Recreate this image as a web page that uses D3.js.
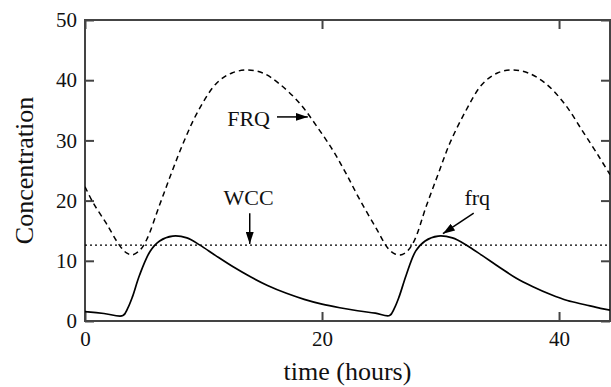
<!DOCTYPE html>
<html>
<head>
<meta charset="utf-8">
<script src="https://cdn.jsdelivr.net/npm/d3@7"></script>
<style>
  body { margin: 0; background: #fff; }
  text { font-family: "Liberation Serif", "DejaVu Serif", serif; fill: #111; }
</style>
</head>
<body>
<div id="chart"></div>
<script>
// dati (ore, concentrazione)
const frqTime = [0, 1.6, 3.2, 3.6, 4.0, 4.6, 5.5, 6.3, 7.4, 8.6, 9.7, 11.0, 12.5, 14.0, 15.4, 17.0, 18.5, 20.0, 21.5, 23.0, 24.5, 25.7, 26.1, 26.5, 27.1, 27.9, 28.7, 29.8, 31.0, 32.2, 33.5, 35.0, 36.4, 37.8, 39.3, 40.7, 42.2, 43.5, 44.3];
const frqValues = [1.55, 1.25, 0.9, 2.1, 4.0, 7.6, 11.6, 13.3, 14.1, 13.8, 12.6, 10.9, 9.0, 7.3, 5.9, 4.6, 3.6, 2.8, 2.2, 1.7, 1.3, 0.9, 2.1, 4.0, 7.6, 11.6, 13.3, 14.1, 13.8, 12.6, 10.9, 8.9, 7.1, 5.7, 4.4, 3.4, 2.7, 2.1, 1.8];

const FRQTime = [0, 0.7, 1.8, 2.9, 3.5, 4.0, 4.6, 5.2, 6.3, 7.3, 8.3, 9.5, 11.1, 12.4, 13.7, 15.0, 16.4, 18.1, 19.5, 20.9, 22.0, 23.2, 24.6, 25.6, 26.2, 26.7, 27.2, 27.8, 28.8, 29.8, 30.8, 32.1, 33.5, 34.8, 36.1, 37.4, 38.9, 40.5, 42.0, 43.4, 44.3];
const FRQValues = [22.3, 19.6, 16.2, 12.6, 11.3, 11.0, 11.7, 13.5, 19.3, 24.6, 29.6, 34.7, 39.5, 41.2, 41.7, 41.2, 39.4, 36.2, 32.5, 28.4, 24.6, 20.1, 15.3, 12.0, 11.1, 11.0, 11.6, 13.4, 19.1, 24.4, 29.6, 34.8, 39.3, 41.2, 41.7, 41.2, 39.4, 36.0, 31.5, 27.2, 24.3];

const wccTime = [0, 44.3];
const wccValues = [12.6, 12.6];

const xTicks = [0, 20, 40];
const yTicks = [0, 10, 20, 30, 40, 50];

// etichette con freccia (coordinate nei dati)
const labels = [
    { text: 'FRQ', x: 12.0, y: 32.4, anchor: 'start', from: [16.2, 33.9], to: [18.8, 33.9] },
    { text: 'WCC', x: 13.8, y: 19.3, anchor: 'middle', from: [13.9, 17.9], to: [13.9, 12.8] },
    { text: 'frq', x: 33.1, y: 19.3, anchor: 'middle', from: [32.8, 17.9], to: [30.2, 14.5] }
];

const W = 611, H = 387;
const margin = { left: 85, right: 1, top: 20, bottom: 66 };
const width = W - margin.left - margin.right;
const height = H - margin.top - margin.bottom;

const svg = d3.select('#chart').append('svg')
    .attr('width', W).attr('height', H);

const defs = svg.append('defs');
defs.append('clipPath').attr('id', 'clip')
    .append('rect').attr('width', width).attr('height', height);
defs.append('marker')
    .attr('id', 'arrow')
    .attr('viewBox', '0 0 12 8')
    .attr('refX', 12).attr('refY', 4)
    .attr('markerWidth', 12).attr('markerHeight', 8)
    .attr('markerUnits', 'userSpaceOnUse')
    .attr('orient', 'auto')
    .append('path').attr('d', 'M0,0 L12,4 L0,8 Z').attr('fill', '#000');

const g = svg.append('g').attr('transform', `translate(${margin.left},${margin.top})`);

const x = d3.scaleLinear().domain([0, 44.3]).range([0, width]);
const y = d3.scaleLinear().domain([0, 50]).range([height, 0]);

const axisColor = '#444';
const tickLen = 9;

// asse sinistro con etichette
const yAxis = g.append('g')
    .call(d3.axisLeft(y).tickValues(yTicks).tickSize(-tickLen).tickPadding(8));
// asse in basso con etichette
const xAxis = g.append('g')
    .attr('transform', `translate(0,${height})`)
    .call(d3.axisBottom(x).tickValues(xTicks).tickSize(-tickLen).tickPadding(10));
// assi superiore e destro solo tacche
const topAxis = g.append('g')
    .call(d3.axisTop(x).tickValues(xTicks).tickSize(-tickLen).tickFormat(''));
const rightAxis = g.append('g')
    .attr('transform', `translate(${width},0)`)
    .call(d3.axisRight(y).tickValues(yTicks).tickSize(-tickLen).tickFormat(''));

[yAxis, xAxis, topAxis, rightAxis].forEach(a => {
    a.select('.domain').remove();
    a.selectAll('line').attr('stroke', axisColor).attr('stroke-width', 2);
    a.selectAll('text').style('font-family', '"Liberation Serif", serif')
        .style('font-size', '21px').attr('fill', '#111');
});

// cornice
g.append('rect')
    .attr('width', width).attr('height', height)
    .attr('fill', 'none').attr('stroke', axisColor).attr('stroke-width', 2);

// linee
const line = d3.line()
    .x(d => x(d[0])).y(d => y(d[1]))
    .curve(d3.curveCatmullRom.alpha(0.5));

const plot = g.append('g').attr('clip-path', 'url(#clip)');

plot.append('path')
    .datum(wccTime.map((t, i) => [t, wccValues[i]]))
    .attr('d', line).attr('fill', 'none')
    .attr('stroke', '#000').attr('stroke-width', 1.3)
    .attr('stroke-dasharray', '2,3');

plot.append('path')
    .datum(FRQTime.map((t, i) => [t, FRQValues[i]]))
    .attr('d', line).attr('fill', 'none')
    .attr('stroke', '#000').attr('stroke-width', 1.5)
    .attr('stroke-dasharray', '5.5,4');

plot.append('path')
    .datum(frqTime.map((t, i) => [t, frqValues[i]]))
    .attr('d', line).attr('fill', 'none')
    .attr('stroke', '#000').attr('stroke-width', 1.7);

// etichette e frecce
labels.forEach(l => {
    g.append('text')
        .attr('x', x(l.x)).attr('y', y(l.y))
        .attr('text-anchor', l.anchor)
        .style('font-size', '22px')
        .text(l.text);
    g.append('line')
        .attr('x1', x(l.from[0])).attr('y1', y(l.from[1]))
        .attr('x2', x(l.to[0])).attr('y2', y(l.to[1]))
        .attr('stroke', '#000').attr('stroke-width', 1.5)
        .attr('marker-end', 'url(#arrow)');
});

// titoli degli assi
g.append('text')
    .attr('x', width / 2).attr('y', height + 59)
    .attr('text-anchor', 'middle')
    .style('font-size', '26px')
    .text('time (hours)');

g.append('text')
    .attr('transform', 'rotate(-90)')
    .attr('x', -height / 2).attr('y', -52)
    .attr('text-anchor', 'middle')
    .style('font-size', '26px')
    .text('Concentration');
</script>
</body>
</html>
